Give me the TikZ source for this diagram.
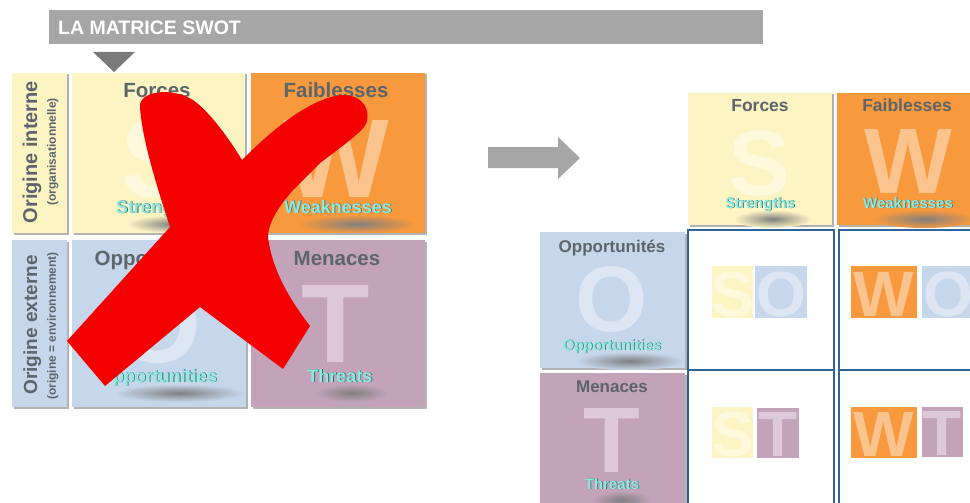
\documentclass[tikz,border=0pt]{standalone}
\usepackage{fontspec}
\setmainfont{Liberation Sans}
\usepackage{tikz}
\usetikzlibrary{%
  % relative placement
  positioning,%
  % measuring the tag widths
  calc%
}
\definecolor{bargray}{HTML}{A6A6A6}
\definecolor{tipgray}{HTML}{7A7A7A}
\definecolor{headgray}{HTML}{5C646C}
\definecolor{swotyellow}{HTML}{FDF4C3}
\definecolor{swotorange}{HTML}{F7993C}
\definecolor{swotblue}{HTML}{C6D7EC}
\definecolor{swotmauve}{HTML}{C2A3BA}
\definecolor{letteryellow}{HTML}{FEF8DD}
\definecolor{letterorange}{HTML}{FBC38D}
\definecolor{letterblue}{HTML}{DDE6F2}
\definecolor{lettermauve}{HTML}{DEC9DA}
\definecolor{tealtext}{HTML}{8FE9E1}
\definecolor{tealedge}{HTML}{2F6F6B}
\definecolor{crossred}{HTML}{F40000}
\definecolor{cellblue}{HTML}{2F649A}

\pgfdeclarelayer{boxes}
\pgfdeclarelayer{glow}
\pgfsetlayers{boxes,glow,main}

\tikzset{>=latex}
\tikzset{
  titletext/.style={font=\bfseries\fontsize{19.5}{20}\selectfont, text=white,
    inner sep=0pt, anchor=base west},
  headtext/.style={font=\bfseries\fontsize{#1}{#1}\selectfont, text=headgray,
    inner sep=0pt, anchor=base},
  sidetext/.style={font=\bfseries\fontsize{#1}{#1}\selectfont, text=headgray,
    inner sep=0pt, anchor=base, rotate=90},
  bigletter/.style={font=\bfseries\fontsize{#1}{#1}\selectfont, inner sep=0pt,
    anchor=base},
  tagtext/.style={font=\bfseries\fontsize{#1}{#1}\selectfont, inner sep=0pt,
    anchor=base},
  boxshade/.style={fill=black!30},
  cellline/.style={draw=cellblue, line width=2pt},
}

% english tag: name, x, y, size, text, colour of the box below
\newcommand{\engtag}[6]{%
  \node[tagtext=#4, text=tealedge] (#1-edge) at (#2+0.8,#3+0.8) {#5};%
  \node[tagtext=#4, text=tealtext] (#1) at (#2,#3) {#5};%
  \begin{pgfonlayer}{glow}
    \shade[inner color=black!50, outer color=#6] let \p1=($(#1.east)-(#1.west)$) in
      ($(#1.base)+(0.18*\x1,11)$) ellipse ({0.55*\x1} and 9pt);%
  \end{pgfonlayer}
}

\begin{document}
\begin{tikzpicture}[x=1pt, y=-1pt]
  \useasboundingbox (0,0) rectangle (970,503);%
  \clip (0,0) rectangle (970,503);%
  % title
  \fill[bargray] (49,10) rectangle (763,44);%
  \node[titletext] (title) at (58,35) {LA MATRICE SWOT};%
  \fill[tipgray] (93,52) -- (135,52) -- (114,72) -- cycle;%
  % coloured boxes
  \begin{pgfonlayer}{boxes}
    \foreach \xa/\ya/\xb/\yb/\col in {12/73/67/233/swotyellow,
      72/73/245/233/swotyellow, 251/73/425/233/swotorange,
      12/240/67/407/swotblue, 72/240/246/407/swotblue,
      251/240/425/407/swotmauve, 688/93/832/225/swotyellow,
      837/93/990/225/swotorange, 540/232/685/368/swotblue,
      540/373/685/515/swotmauve}{%
      \fill[boxshade] (\xa+1.5,\ya+1.5) rectangle (\xb+1.5,\yb+1.5);%
      \fill[\col] (\xa,\ya) rectangle (\xb,\yb);%
    }
  \end{pgfonlayer}
  % big letters
  \foreach \x/\y/\sz/\col/\ltr/\nm in {158/197/112/letteryellow/S/bigS,
    336/197/112/letterorange/W/bigW, 158/362/112/letterblue/O/bigO,
    336/362/112/lettermauve/T/bigT, 760/195/93/letteryellow/S/rbigS,
    908/193/93/letterorange/W/rbigW, 612/331/93/letterblue/O/rbigO,
    612/472/93/lettermauve/T/rbigT}{%
    \node[bigletter=\sz, text=\col] (\nm) at (\x,\y) {\ltr};%
  }
  % side labels
  \node[sidetext=20] (intA) at (37,152) {Origine interne};%
  \node[sidetext=12] (intB) at (56,152) {(organisationnelle)};%
  \node[sidetext=19] (extA) at (37,325) {Origine externe};%
  \node[sidetext=12] (extB) at (56,326) {(origine = environnement)};%
  % headings
  \node[headtext=20.5] (forces) at (157,97) {Forces};%
  \node[headtext=20.5] (faibl) at (336,97) {Faiblesses};%
  \node[headtext=20.5] (opport) at (159,265) {Opportunités};%
  \node[headtext=20.5] (menaces) at (337,265) {Menaces};%
  \node[headtext=17.5] (rforces) at (760,112) {Forces};%
  \node[headtext=17.5] (rfaibl) at (907,112) {Faiblesses};%
  \node[headtext=17] (ropport) at (612,252) {Opportunités};%
  \node[headtext=17] (rmenaces) at (612,392) {Menaces};%
  % english tags
  \engtag{str}{158}{213}{18}{Strengths}{swotyellow}%
  \engtag{wea}{338}{213}{18}{Weaknesses}{swotorange}%
  \engtag{opp}{158}{382}{18}{Opportunities}{swotblue}%
  \engtag{thr}{340}{382}{18}{Threats}{swotmauve}%
  \engtag{rstr}{760}{208}{15}{Strengths}{swotyellow}%
  \engtag{rwea}{908}{208}{15}{Weaknesses}{swotorange}%
  \engtag{ropp}{612}{350}{15}{Opportunities}{swotblue}%
  \engtag{rthr}{612}{489}{15}{Threats}{swotmauve}%
  % arrow
  \fill[bargray] (488,147) -- (558,147) -- (558,137) -- (580,158) -- (558,179)
    -- (558,168) -- (488,168) -- cycle;%
  % cross pairs
  \foreach \xa/\ya/\xb/\yb/\col/\lcol/\ltr/\nm in {
    712/266/753/318/swotyellow/letteryellow/S/soS,
    755/266/807/318/swotblue/letterblue/O/soO,
    851/266/917/318/swotorange/letterorange/W/woW,
    922/266/975/318/swotblue/letterblue/O/woO,
    712/407/753/458/swotyellow/letteryellow/S/stS,
    757/408/799/458/swotmauve/lettermauve/T/stT,
    851/407/917/458/swotorange/letterorange/W/wtW,
    922/407/963/457/swotmauve/lettermauve/T/wtT}{%
    \fill[\col] (\xa,\ya) rectangle (\xb,\yb);%
    \node[bigletter=64, text=\lcol] (\nm) at ({(\xa+\xb)/2},\yb-2) {\ltr};%
  }
  \draw[cellline] (688,230) rectangle (834,370);%
  \draw[cellline] (839,230) rectangle (990,370);%
  \draw[cellline] (688,370) rectangle (834,520);%
  \draw[cellline] (839,370) rectangle (990,520);%
  % red cross
  \fill[crossred] (140,107)
    .. controls (138,92) and (170,86) .. (193,100)
    .. controls (210,112) and (230,140) .. (242,160)
    .. controls (262,140) and (300,104) .. (335,96)
    .. controls (360,91) and (372,108) .. (366,124)
    .. controls (362,132) and (340,148) .. (320,163)
    -- (293,190)
    .. controls (280,205) and (268,222) .. (268,237)
    .. controls (272,270) and (290,300) .. (310,326)
    -- (283,369) -- (200,307) -- (105,386) -- (67,341) -- (170,227)
    .. controls (158,190) and (142,140) .. (140,107) -- cycle;%
\end{tikzpicture}
\end{document}
